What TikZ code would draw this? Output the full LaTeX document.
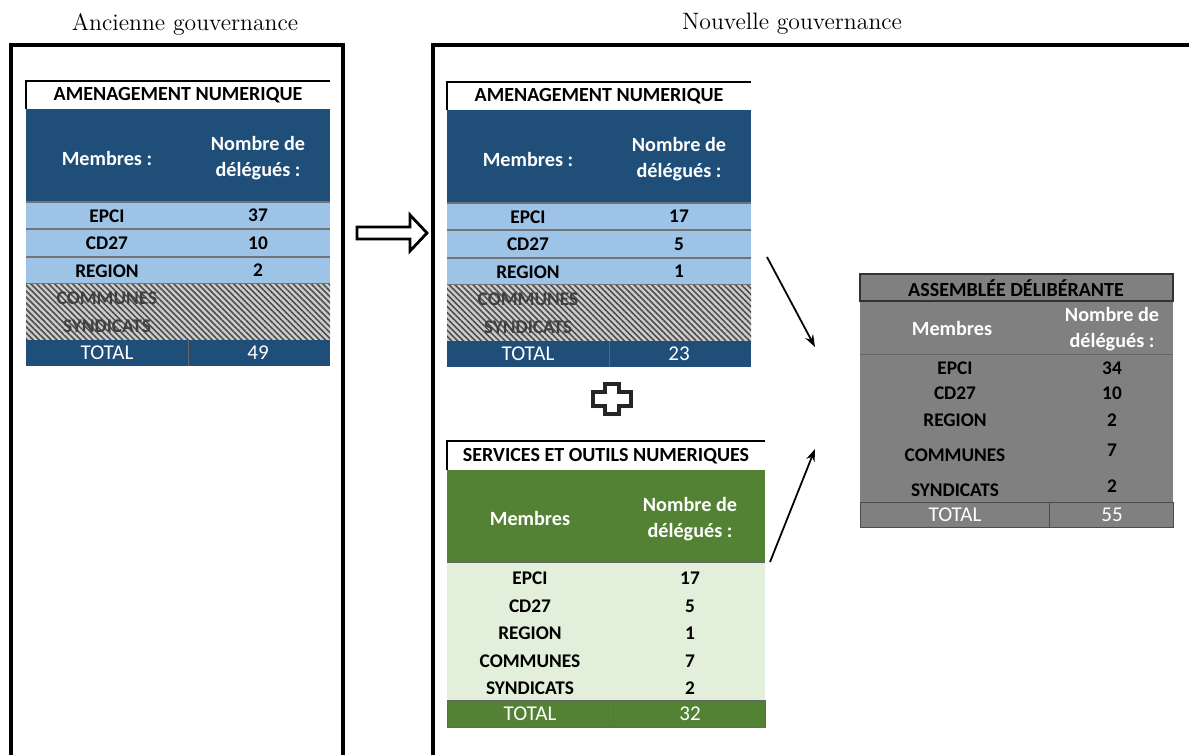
\documentclass[tikz,border=0pt]{standalone}
\usepackage{fontspec}
\newfontfamily\calibri{Carlito}
\usetikzlibrary{patterns.meta,arrows.meta}

\definecolor{bleufonce}{HTML}{1F4E79}
\definecolor{bleuclair}{HTML}{9DC3E6}
\definecolor{vertfonce}{HTML}{548235}
\definecolor{vertclair}{HTML}{E2EFDA}
\definecolor{grismoyen}{HTML}{808080}

\tikzset{
  titre/.style={font=\fontsize{13.5}{16}\selectfont},
  cellule/.style={font=\calibri\bfseries\fontsize{11}{13}\selectfont, inner sep=0pt},
  titretab/.style={cellule, font=\calibri\bfseries\fontsize{11.4}{13}\selectfont},
  entete/.style={cellule, text=white, align=center, font=\calibri\bfseries\fontsize{11.5}{14.5}\selectfont},
  total/.style={font=\calibri\fontsize{12}{14}\selectfont, text=white, inner sep=0pt},
  hachure/.style={pattern={Lines[angle=-45,distance=2.4pt,line width=0.9pt]}, pattern color=black!70},
  fleche/.style={-{Stealth[length=7pt,width=5pt]}, line width=1pt},
  cadre/.style={line width=1.8pt},
}

\begin{document}
\begin{tikzpicture}[x=0.02cm,y=-0.02cm]
  \useasboundingbox (0,0) rectangle (1189,754);

  % cadres
  \draw[cadre] (11,760) -- (11,45) -- (343,45) -- (343,760);
  \draw[cadre] (433,760) -- (433,45) -- (1195,45);
  \node[titre] (ancienne) at (185,24) {Ancienne gouvernance};
  \node[titre] (nouvelle) at (792,24) {Nouvelle gouvernance};

  % tables bleues
  \foreach \dx/\dy/\t/\e/\c/\r/\tot in {0/0/anc/37/10/2/49, 421/1/nouv/17/5/1/23}{
    \begin{scope}[shift={(\dx,\dy)}]
      \fill[white] (26,81) rectangle (330,109);
      \draw[line width=0.8pt] (330,81) -- (26,81) -- (26,109);
      \node[titretab] (\t-titre) at (178,95) {AMENAGEMENT NUMERIQUE};
      \fill[bleufonce] (26,109) rectangle (330,202);
      \node[entete] (\t-membres) at (107,158) {Membres :};
      \node[entete] (\t-nombre) at (258,158) {Nombre de\\délégués :};
      \fill[bleuclair] (26,202) rectangle (330,284);
      \foreach \y in {202,229,257,284}
        \draw[black!55, line width=0.6pt] (26,\y) -- (330,\y);
      \node[cellule] (\t-epci) at (107,216) {EPCI};
      \node[cellule] (\t-epci-n) at (258,215) {\e};
      \node[cellule] (\t-cd) at (107,243) {CD27};
      \node[cellule] (\t-cd-n) at (258,243) {\c};
      \node[cellule] (\t-region) at (107,271) {REGION};
      \node[cellule] (\t-region-n) at (258,270) {\r};
      % lignes hachurees
      \fill[gray!40] (26,284) rectangle (330,340);
      \fill[hachure] (26,284) rectangle (330,340);
      \node[cellule, text=black!75] (\t-communes) at (107,298) {COMMUNES};
      \node[cellule, text=black!75] (\t-syndicats) at (107,326) {SYNDICATS};
      \fill[bleufonce] (26,340) rectangle (330,366);
      \draw[black!60] (188,340) -- (188,366);
      \node[total] (\t-total) at (107,353) {TOTAL};
      \node[total] (\t-total-n) at (258,353) {\tot};
    \end{scope}
  }

  % plus
  \fill[black!20] (607,386) -- (621,386) -- (621,394) -- (633,394) -- (633,408) -- (621,408) -- (621,416) -- (607,416) -- (607,408) -- (595,408) -- (595,394) -- (607,394) -- cycle;
  \draw[line width=2pt, black!85, fill=white] (605,384) -- (619,384) -- (619,392) -- (631,392) -- (631,406) -- (619,406) -- (619,414) -- (605,414) -- (605,406) -- (593,406) -- (593,392) -- (605,392) -- cycle;

  % table verte
  \fill[white] (447,441) rectangle (765,470);
  \draw[line width=0.8pt] (765,441) -- (447,441) -- (447,470);
  \node[titretab] (serv-titre) at (606,456) {SERVICES ET OUTILS NUMERIQUES};
  \fill[vertfonce] (447,470) rectangle (765,562);
  \node[entete] (serv-membres) at (530,518) {Membres};
  \node[entete] (serv-nombre) at (690,519) {Nombre de\\délégués :};
  \fill[vertclair] (447,562) rectangle (765,700);
  \draw[black!60] (447,562) -- (765,562);
  \foreach \y/\m/\v [count=\i] in {578/EPCI/17, 606/CD27/5, 633/REGION/1, 661/COMMUNES/7, 688/SYNDICATS/2}{
    \node[cellule] (serv-m\i) at (530,\y) {\m};
    \node[cellule] (serv-v\i) at (690,\y) {\v};
  }
  \fill[vertfonce] (447,700) rectangle (765,727);
  \draw[black!60] (447,700) rectangle (765,727) (613,700) -- (613,727);
  \node[total] (serv-total) at (530,714) {TOTAL};
  \node[total] (serv-total-n) at (690,714) {32};

  % table grise
  \fill[grismoyen] (860,274) rectangle (1173,527);
  \draw[line width=1pt, black!80] (860,274) rectangle (1173,301);
  \node[titretab] (assemb-titre) at (1016,288) {ASSEMBLÉE DÉLIBÉRANTE};
  \node[entete] (assemb-membres) at (952,328) {Membres};
  \node[entete] (assemb-nombre) at (1112,329) {Nombre de\\délégués :};
  \draw[black!60] (860,354) -- (1173,354);
  \foreach \y/\yv/\m/\v [count=\i] in {368/368/EPCI/34, 393/393/CD27/10, 420/420/REGION/2, 455/450/COMMUNES/7, 490/486/SYNDICATS/2}{
    \node[cellule] (assemb-m\i) at (955,\y) {\m};
    \node[cellule] (assemb-v\i) at (1112,\yv) {\v};
  }
  \draw[black!70] (860,502) rectangle (1173,527) (1049,502) -- (1049,527);
  \node[total] (assemb-total) at (955,515) {TOTAL};
  \node[total] (assemb-total-n) at (1112,515) {55};

  % fleches
  \draw[line width=1.6pt, line join=miter, fill=white] (357,227) -- (410,227) -- (410,215) -- (427,233) -- (410,251) -- (410,239) -- (357,239) -- cycle;
  \coordinate (depart-haut) at (767,257);
  \coordinate (arrivee-haut) at (815,347);
  \coordinate (depart-bas) at (770,562);
  \coordinate (arrivee-bas) at (815,449);
  \draw[fleche] (depart-haut) -- (arrivee-haut);
  \draw[fleche] (depart-bas) -- (arrivee-bas);

\end{tikzpicture}
\end{document}
